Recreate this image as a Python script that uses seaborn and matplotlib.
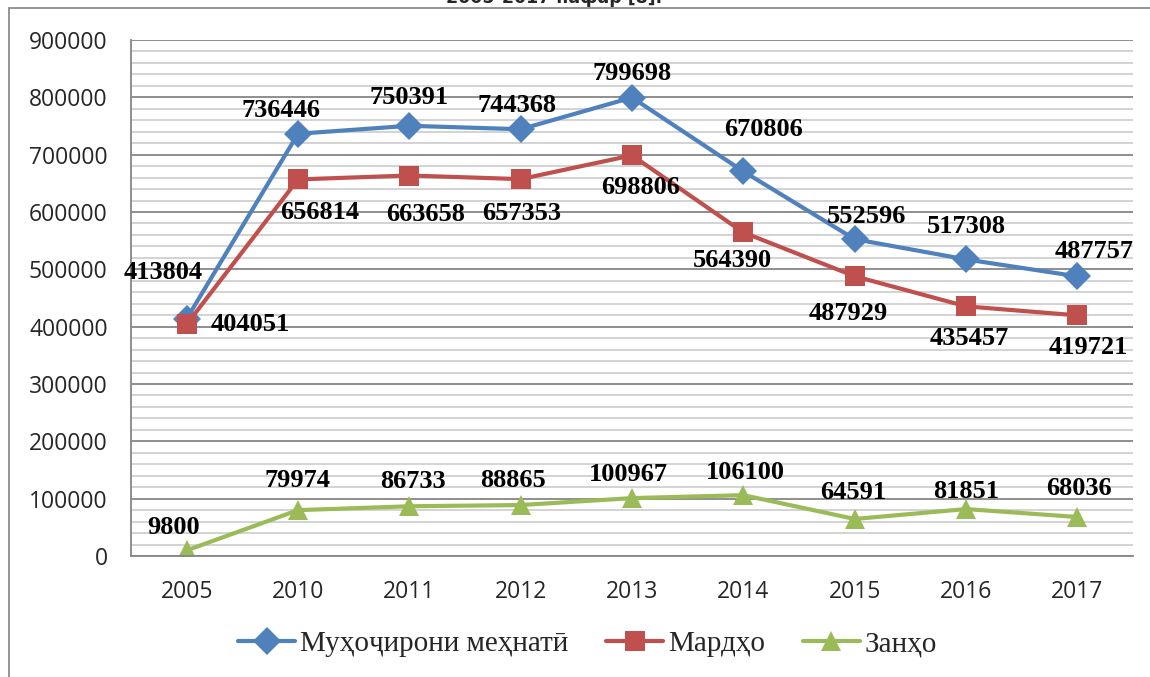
import numpy as np
import pandas as pd
import matplotlib
matplotlib.use('Agg')
import matplotlib.pyplot as plt
import seaborn as sns
from matplotlib.ticker import MultipleLocator, FixedLocator, StrMethodFormatter

years = ['2005', '2010', '2011', '2012', '2013', '2014', '2015', '2016', '2017']
migrants = [413804, 736446, 750391, 744368, 799698, 670806, 552596, 517308, 487757]
men = [404051, 656814, 663658, 657353, 698806, 564390, 487929, 435457, 419721]
women = [9800, 79974, 86733, 88865, 100967, 106100, 64591, 81851, 68036]
series_names = ['Муҳоҷирони меҳнатӣ', 'Мардҳо', 'Занҳо']

colors = ['#4F81BD', '#C0504D', '#9BBB59']
markers = ['D', 's', '^']

df = pd.DataFrame({
    'pos': list(range(len(years))) * 3,
    'value': migrants + men + women,
    'series': np.repeat(series_names, len(years)),
})

sns.set_style('white')
plt.rcParams['font.family'] = ['Open Sans', 'DejaVu Sans']
serif = ['Liberation Serif', 'DejaVu Serif']

fig = plt.figure(figsize=(11.5, 6.77), dpi=100)
ax = fig.add_axes([131 / 1150, 121 / 677, 1002 / 1150, 516 / 677])

sns.lineplot(data=df, x='pos', y='value', hue='series', style='series',
             hue_order=series_names, style_order=series_names,
             palette=colors, markers=markers, dashes=False,
             linewidth=3, markersize=14, markeredgewidth=0, ax=ax)

# data labels, offsets in pixels (dx, dy up)
offsets = [
    [(-23, 46), (-17, 23), (0, 28), (-4, 24), (0, 24), (20, 42), (12, 23), (0, 33), (17, 25)],
    [(64, 0), (22, -33), (16, -39), (1, -34), (9, -32), (-11, -28), (-6, -37), (3, -32), (11, -32)],
    [(-13, 23), (0, 30), (4, 25), (-8, 25), (-4, 24), (2, 23), (-1, 26), (0, 18), (2, 28)],
]
for vals, offs in zip([migrants, men, women], offsets):
    for i, (v, (dx, dy)) in enumerate(zip(vals, offs)):
        ax.annotate(str(v), (i, v), xytext=(dx * 0.72, dy * 0.72),
                    textcoords='offset points', ha='center', va='center',
                    fontsize=19, fontweight='bold', family=serif, color='black')

ax.set_xlim(-0.5, len(years) - 0.5)
ax.set_ylim(0, 900000)
ax.yaxis.set_major_locator(MultipleLocator(100000))
ax.yaxis.set_minor_locator(MultipleLocator(20000))
ax.yaxis.set_major_formatter(StrMethodFormatter('{x:.0f}'))
ax.set_xticks(range(len(years)))
ax.set_xticklabels(years)
ax.xaxis.set_minor_locator(FixedLocator(np.arange(-0.5, len(years), 1)))

ax.grid(which='major', axis='y', color='#868686', lw=1.3)
ax.grid(which='minor', axis='y', color='#c8c8c8', lw=1.1)
ax.grid(False, axis='x')
ax.set_axisbelow(True)

for s in ['top', 'right']:
    ax.spines[s].set_visible(False)
for s in ['left', 'bottom']:
    ax.spines[s].set_color('#868686')
    ax.spines[s].set_linewidth(1.3)

ax.tick_params(axis='x', which='major', length=0, pad=17, labelsize=16.5)
ax.tick_params(axis='x', which='minor', length=4.5, width=1.3, color='#868686', direction='out')
ax.tick_params(axis='y', which='major', length=5.8, width=1.3, color='#868686', pad=11, labelsize=16.5, direction='out')
ax.tick_params(axis='y', which='minor', length=0)
ax.set_xlabel('')
ax.set_ylabel('')

handles, labels = ax.get_legend_handles_labels()
ax.get_legend().remove()
fig.legend(handles, labels, loc='center', bbox_to_anchor=(0.511, 1 - 644 / 677),
           ncol=3, frameon=False, handlelength=1.95, handletextpad=0.17,
           columnspacing=1.3, prop={'family': serif, 'size': 21})

# outer chart frame and caption above it, clipped by the top edge as in the source
fig.add_artist(plt.Rectangle((9 / 1150, -0.1), 1.2, 1.1 - 8 / 677,
                             transform=fig.transFigure, fill=False,
                             edgecolor='#8c8c8c', lw=1.3))
fig.text(0.482, 1 - 3 / 677, '2005-2017 нафар [8].', ha='center', va='baseline',
         fontsize=12.5, fontweight='bold', family=['DejaVu Sans'])

fig.savefig('out.png', dpi=100)
plt.close()
